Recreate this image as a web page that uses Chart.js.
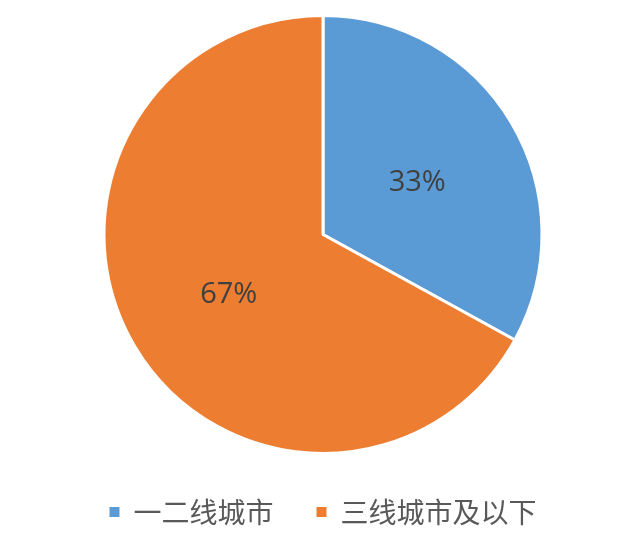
<!DOCTYPE html>
<html>
<head>
<meta charset="utf-8">
<script src="https://cdn.jsdelivr.net/npm/chart.js@4.4.0/dist/chart.umd.min.js"></script>
<style>
  html, body { margin: 0; padding: 0; background: #fff; }
  #wrap { width: 640px; height: 536px; }
</style>
</head>
<body>
<div id="wrap"><canvas id="grafica"></canvas></div>
<script>
// ========== DATOS ==========
const categorias = ["一二线城市", "三线城市及以下"];
const valores = [33, 67];
const colores = ["#5B9BD5", "#ED7D31"];

// etiquetas de porcentaje dentro de cada sector
const etiquetas = {
  id: "etiquetas",
  afterDatasetsDraw(chart) {
    const ctx = chart.ctx;
    const total = valores.reduce((a, b) => a + b, 0);
    chart.getDatasetMeta(0).data.forEach((arc, i) => {
      const p = arc.tooltipPosition();
      ctx.save();
      ctx.fillStyle = "#404040";
      ctx.font = "29px 'Open Sans', 'Noto Sans CJK SC', sans-serif";
      ctx.textAlign = "center";
      ctx.textBaseline = "middle";
      ctx.fillText(Math.round(valores[i] / total * 100) + "%", p.x, p.y + 4);
      ctx.restore();
    });
  }
};

new Chart(document.getElementById("grafica"), {
  type: "pie",
  data: {
    labels: categorias,
    datasets: [{ data: valores, backgroundColor: colores, borderColor: "#fff", borderWidth: 3 }]
  },
  options: {
    responsive: true,
    maintainAspectRatio: false,
    animation: false,
    layout: { padding: { top: 14, left: 6, bottom: 0 } },
    plugins: {
      tooltip: { enabled: false },
      legend: {
        position: "bottom",
        labels: {
          boxWidth: 10,
          boxHeight: 10,
          padding: 43,
          color: "#595959",
          font: { size: 28, family: "'Noto Sans CJK SC', sans-serif" },
          generateLabels(chart) {
            const base = Chart.overrides.pie.plugins.legend.labels.generateLabels(chart);
            return base.map(l => Object.assign(l, { lineWidth: 0, strokeStyle: l.fillStyle }));
          }
        }
      }
    }
  },
  plugins: [etiquetas]
});
</script>
</body>
</html>
